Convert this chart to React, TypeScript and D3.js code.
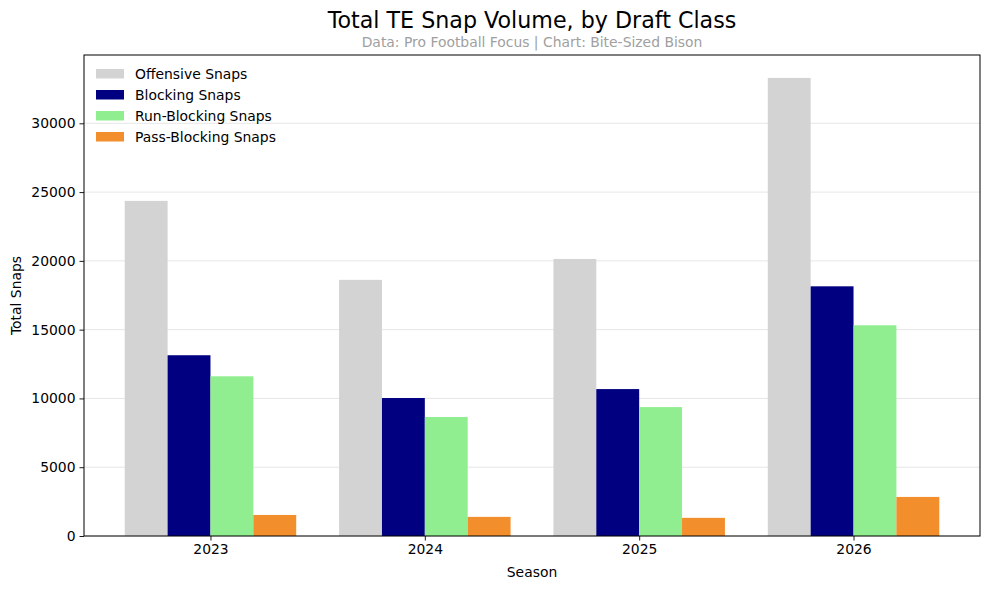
import React, { useEffect, useRef } from "react";
import * as d3 from "d3";

const seasons = ["2023", "2024", "2025", "2026"];
const seriesNames = ["Offensive Snaps", "Blocking Snaps", "Run-Blocking Snaps", "Pass-Blocking Snaps"];
const seriesColors = ["#d3d3d3", "#000080", "#90ee90", "#f28e2b"];
const offensiveSnaps = [24360, 18620, 20140, 33300];
const blockingSnaps = [13140, 10030, 10680, 18150];
const runBlockingSnaps = [11610, 8650, 9370, 15320];
const passBlockingSnaps = [1530, 1390, 1320, 2840];
const yTicks = [0, 5000, 10000, 15000, 20000, 25000, 30000];

const W = 989,
	H = 589;
const margin = { top: 55, right: 9, bottom: 53, left: 84 };
const FONT = "DejaVu Sans, sans-serif";
const FS = 13.9;

function draw(ref: SVGSVGElement | null) {
	if (!ref) return;
	const series = [offensiveSnaps, blockingSnaps, runBlockingSnaps, passBlockingSnaps];
	const svg = d3.select(ref);
	svg.selectAll("*").remove();

	const innerW = W - margin.left - margin.right,
		innerH = H - margin.top - margin.bottom;
	const barW = 0.2;
	// numeric x like matplotlib: data spans [-2w, 3 + 2w], 5% padding
	const lo = -2 * barW,
		hi = seasons.length - 1 + 2 * barW;
	const pad = (hi - lo) * 0.05;
	const x = d3.scaleLinear().domain([lo - pad, hi + pad]).range([0, innerW]);
	const maxV = d3.max(series.flat()) as number;
	const y = d3.scaleLinear().domain([0, maxV * 1.05]).range([innerH, 0]);

	const g = svg.append("g").attr("transform", `translate(${margin.left},${margin.top})`);

	// grid
	g.append("g")
		.selectAll("line")
		.data(yTicks)
		.join("line")
		.attr("x1", 0)
		.attr("x2", innerW)
		.attr("y1", (d) => y(d))
		.attr("y2", (d) => y(d))
		.attr("stroke", "#e6e6e6")
		.attr("stroke-width", 1);

	// bars
	series.forEach((vals, si) => {
		g.append("g")
			.selectAll("rect")
			.data(vals)
			.join("rect")
			.attr("x", (_, i) => x(i + (si - 2) * barW))
			.attr("width", x(barW) - x(0))
			.attr("y", (d) => y(d))
			.attr("height", (d) => y(0) - y(d))
			.attr("fill", seriesColors[si]);
	});

	// axes
	const xAxis = g
		.append("g")
		.attr("transform", `translate(0,${innerH})`)
		.call(
			d3
				.axisBottom(x)
				.tickValues(d3.range(seasons.length))
				.tickFormat((d) => seasons[d as number])
				.tickSize(4.5)
				.tickPadding(4)
		);
	const yAxis = g.append("g").call(
		d3
			.axisLeft(y)
			.tickValues(yTicks)
			.tickFormat((d) => String(d))
			.tickSize(4.5)
			.tickPadding(4)
	);
	[xAxis, yAxis].forEach((a) => {
		a.select(".domain").remove();
		a.selectAll("text").attr("font-family", FONT).attr("font-size", FS).attr("fill", "#000");
		a.selectAll("line").attr("stroke", "#000").attr("stroke-width", 0.9);
	});

	// frame
	g.append("rect")
		.attr("width", innerW)
		.attr("height", innerH)
		.attr("fill", "none")
		.attr("stroke", "#000")
		.attr("stroke-width", 1);

	// legend
	const legend = g
		.append("g")
		.selectAll("g")
		.data(seriesNames)
		.join("g")
		.attr("transform", (_, i) => `translate(12, ${14 + i * 21})`);
	legend
		.append("rect")
		.attr("width", 28)
		.attr("height", 9.5)
		.attr("fill", (_, i) => seriesColors[i]);
	legend
		.append("text")
		.attr("x", 39)
		.attr("y", 5)
		.attr("dy", "0.35em")
		.attr("font-family", FONT)
		.attr("font-size", FS)
		.text((d) => d);

	// titles
	svg.append("text")
		.attr("x", margin.left + innerW / 2)
		.attr("y", 28)
		.attr("text-anchor", "middle")
		.attr("font-family", FONT)
		.attr("font-size", 22.2)
		.text("Total TE Snap Volume, by Draft Class");
	svg.append("text")
		.attr("x", margin.left + innerW / 2)
		.attr("y", 47)
		.attr("text-anchor", "middle")
		.attr("font-family", FONT)
		.attr("font-size", FS)
		.attr("fill", "#a0a0a0")
		.text("Data: Pro Football Focus | Chart: Bite-Sized Bison");
	svg.append("text")
		.attr("x", margin.left + innerW / 2)
		.attr("y", 577)
		.attr("text-anchor", "middle")
		.attr("font-family", FONT)
		.attr("font-size", FS)
		.text("Season");
	svg.append("text")
		.attr("transform", `translate(21, ${margin.top + innerH / 2}) rotate(-90)`)
		.attr("text-anchor", "middle")
		.attr("font-family", FONT)
		.attr("font-size", FS)
		.text("Total Snaps");
}

export default function App() {
	const ref = useRef<SVGSVGElement>(null);
	useEffect(() => {
		document.body.style.margin = "0";
		draw(ref.current);
	}, []);
	return <svg ref={ref} width={W} height={H} style={{ display: "block", background: "#fff" }} />;
}
